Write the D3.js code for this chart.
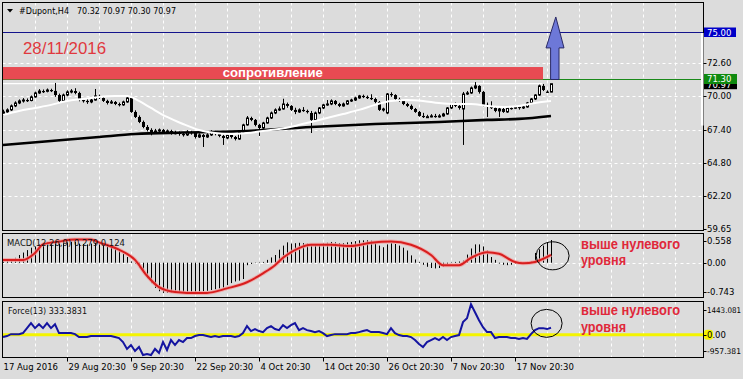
<!DOCTYPE html>
<html><head><meta charset="utf-8">
<script src="https://cdn.jsdelivr.net/npm/d3@7/dist/d3.min.js"></script>
<style>
body{margin:0;background:#dcdcdc;}
svg{display:block;}
</style>
</head><body>
<svg id="c" width="743" height="379"></svg>
<script>
// ---------------- DATA ----------------
const title = "#Dupont,H4";
const titleValues = "70.32 70.97 70.30 70.97";
const opens = [68.60,68.77,68.93,69.24,69.47,69.63,69.70,69.66,69.94,70.25,
70.40,70.38,70.48,70.41,70.09,69.63,70.09,70.33,70.40,70.25,
69.70,69.63,69.55,69.70,70.02,69.86,69.63,69.47,69.55,69.39,
69.32,69.55,69.86,68.77,68.38,67.99,67.60,67.37,67.21,67.29,
67.37,67.21,67.29,67.13,67.15,67.05,66.98,67.21,67.13,66.82,
66.98,66.82,66.98,67.21,67.05,66.90,66.74,66.98,66.82,66.66,
67.21,67.76,68.30,68.15,67.76,67.52,67.91,68.30,68.69,68.93,
69.00,69.39,69.24,68.93,68.77,68.93,68.85,68.69,68.15,68.69,
69.08,69.32,69.39,69.63,69.39,69.24,69.39,69.63,69.70,69.86,
70.02,69.94,69.86,69.78,69.55,68.93,68.69,70.17,70.09,69.78,
69.63,69.39,69.24,69.00,68.77,68.46,68.38,68.40,68.46,68.38,
68.46,68.61,69.08,69.39,69.24,69.00,70.17,70.25,70.64,70.80,
70.33,69.32,69.16,69.08,68.85,69.00,68.77,69.08,69.06,69.16,
69.08,69.16,69.47,69.78,70.09,70.80,70.35,70.32];
const highs = [68.95,69.05,69.35,69.60,69.75,69.85,69.82,70.05,70.35,70.55,
70.52,70.60,70.58,71.03,70.20,70.20,70.45,70.55,70.62,70.35,
69.85,69.78,69.82,70.56,70.12,69.95,69.72,69.70,69.62,69.50,
69.65,70.00,69.90,68.90,68.50,68.10,67.75,67.50,67.45,67.48,
67.45,67.40,67.38,67.30,67.25,67.15,67.35,67.30,67.20,67.10,
67.05,67.10,67.35,67.30,67.12,67.00,67.10,67.05,66.90,67.30,
67.85,68.45,68.40,68.22,67.85,68.00,68.40,68.80,69.05,69.20,
69.80,69.50,69.30,69.10,69.05,69.15,68.95,68.85,68.80,69.15,
69.40,69.70,69.75,69.70,69.48,69.50,69.70,69.80,69.95,70.10,
70.12,70.05,70.15,69.88,69.62,69.10,70.25,70.30,70.15,69.88,
69.70,69.48,69.35,69.08,68.85,68.70,68.55,68.60,68.62,68.60,
68.70,69.15,69.45,69.50,69.30,70.33,70.40,70.75,71.10,70.85,
70.40,69.50,69.60,69.15,69.10,69.08,69.15,69.20,69.25,69.22,
69.25,69.55,69.85,70.15,70.90,70.95,70.45,70.97];
const lows = [68.50,68.65,68.85,69.15,69.38,69.50,69.55,69.60,69.88,70.18,
70.25,70.30,70.32,69.95,69.47,69.55,70.00,70.22,70.15,69.60,
69.50,69.40,69.45,69.65,69.78,69.55,69.35,69.40,69.30,69.20,
69.25,69.48,68.70,68.30,67.90,67.50,67.25,66.95,67.10,67.15,
67.05,67.10,67.00,67.02,66.92,66.85,66.90,67.00,66.70,66.75,
66.04,66.75,66.90,66.95,66.80,66.20,66.65,66.70,66.55,66.60,
67.15,67.70,68.05,67.65,66.90,67.45,67.85,68.22,68.60,68.85,
68.95,69.10,68.85,68.60,68.70,68.78,68.65,67.13,68.10,68.60,
69.00,69.25,69.30,69.30,69.15,69.18,69.32,69.55,69.62,69.80,
69.85,69.78,69.70,69.45,68.85,68.80,68.60,69.95,69.70,69.55,
69.30,69.15,68.92,68.70,68.40,68.30,68.30,68.35,68.32,68.33,
68.40,68.55,69.00,69.15,68.95,66.20,70.10,70.18,70.55,70.20,
69.20,68.38,69.00,68.75,68.38,68.70,68.70,68.95,69.00,68.95,
69.00,69.10,69.40,69.70,70.02,70.40,70.25,70.30];
const closes = [68.77,68.93,69.24,69.47,69.63,69.70,69.66,69.94,70.25,70.40,
70.38,70.48,70.41,70.09,69.63,70.09,70.33,70.40,70.25,69.70,
69.63,69.55,69.70,70.02,69.86,69.63,69.47,69.55,69.39,69.32,
69.55,69.86,68.77,68.38,67.99,67.60,67.37,67.21,67.29,67.37,
67.21,67.29,67.13,67.15,67.05,66.98,67.21,67.13,66.82,66.98,
66.82,66.98,67.21,67.05,66.90,66.74,66.98,66.82,66.66,67.21,
67.76,68.30,68.15,67.76,67.52,67.91,68.30,68.69,68.93,69.00,
69.39,69.24,68.93,68.77,68.93,68.85,68.77,68.15,68.69,69.08,
69.32,69.39,69.63,69.39,69.24,69.39,69.63,69.70,69.86,70.02,
69.94,69.86,69.78,69.55,68.93,69.00,70.17,70.09,69.78,69.63,
69.39,69.24,69.00,68.77,68.46,68.38,68.40,68.46,68.38,68.46,
68.61,69.08,69.39,69.24,69.08,70.17,70.25,70.64,70.80,70.33,
69.32,69.16,69.08,68.85,69.00,68.77,69.08,69.06,69.16,69.08,
69.16,69.47,69.78,70.09,70.80,70.48,70.33,70.97];
// moving averages: [bar index, value]
const fastMA = [[0,68.54],[4,68.85],[8,69.08],[12,69.32],[16,69.63],[20,69.78],[24,69.94],[28,70.02],[31,70.02],[34,69.63],[37,69.08],[41,68.38],[45,67.83],[49,67.37],[53,67.13],[57,67.05],[61,67.13],[65,67.29],[69,67.44],[73,67.68],[77,67.99],[81,68.30],[85,68.61],[89,68.93],[93,69.32],[97,69.63],[101,69.70],[105,69.63],[109,69.47],[113,69.39],[117,69.39],[121,69.24],[125,69.16],[129,69.24],[133,69.47],[137,69.63]];
const slowMA = [[0,66.20],[12,66.51],[24,66.82],[33,67.05],[45,67.17],[61,67.29],[77,67.60],[93,67.83],[109,67.99],[121,68.15],[129,68.23],[137,68.46]];
const macdHist = [0.03,0.05,0.08,0.12,0.19,0.25,0.31,0.37,0.40,0.45,
0.48,0.50,0.52,0.50,0.47,0.48,0.50,0.52,0.51,0.47,
0.46,0.45,0.47,0.50,0.49,0.46,0.45,0.43,0.38,0.30,
0.22,0.14,0.03,-0.02,-0.12,-0.25,-0.38,-0.50,-0.62,-0.70,
-0.74,-0.74,-0.73,-0.74,-0.73,-0.72,-0.72,-0.73,-0.72,-0.71,
-0.70,-0.69,-0.67,-0.65,-0.63,-0.61,-0.55,-0.50,-0.46,-0.44,
-0.40,-0.06,-0.03,-0.01,0.01,0.02,0.07,0.13,0.19,0.32,
0.42,0.50,0.47,0.48,0.49,0.48,0.47,0.42,0.43,0.46,
0.48,0.49,0.51,0.50,0.48,0.48,0.50,0.51,0.53,0.55,
0.55,0.55,0.54,0.51,0.42,0.38,0.45,0.48,0.46,0.42,
0.37,0.30,0.18,0.08,0.02,-0.05,-0.10,-0.13,-0.14,-0.13,
-0.10,-0.04,0.01,0.02,0.03,0.05,0.20,0.35,0.45,0.45,
0.40,0.30,0.14,0.07,-0.02,-0.05,-0.06,-0.05,-0.03,0.00,
0.01,0.02,0.03,0.24,0.33,0.42,0.50,0.558];
const macdSignal = [[0,0.066],[5,0.066],[8,0.24],[10,0.45],[14,0.52],[18,0.57],[22,0.57],[24,0.50],[29,0.32],[33,0.07],[36,-0.32],[39,-0.60],[43,-0.72],[46,-0.74],[51,-0.74],[56,-0.63],[61,-0.48],[65,-0.26],[68,-0.06],[70,0.12],[74,0.36],[77,0.44],[82,0.44],[87,0.41],[92,0.49],[97,0.52],[102,0.44],[107,0.19],[110,-0.06],[114,-0.06],[117,0.12],[121,0.26],[124,0.22],[128,0.02],[130,-0.01],[133,0.02],[137,0.19]];
const force = [-108,-60,30,30,30,80,315,550,315,500,
315,550,315,500,80,80,80,80,30,-108,
-108,-108,-60,-60,-60,-60,-60,-60,-108,-155,
-345,-670,-485,-767,-580,-957,-910,-957,-670,-860,
-345,-720,-250,-485,-250,-345,-155,-155,-60,-15,
-15,-60,-108,-60,-108,-60,-60,-60,-108,-60,
80,410,175,270,175,127,315,410,270,220,
455,315,455,550,220,315,220,175,127,175,
80,-60,-15,30,30,30,30,80,80,127,
175,220,127,127,127,80,30,315,80,-15,
-60,-60,-108,-250,-440,-580,-345,-250,-155,-250,
-108,-250,-108,-60,-15,600,785,1443,1070,690,
360,127,127,-155,-108,-108,-108,-155,-155,-200,
-155,-200,30,220,315,315,270,333.38];
const priceTicks = [72.60,70.00,67.40,64.80,62.20,59.65];
const levelTarget = 75.00, levelRes = 71.30, lastPrice = 70.97, resTop = 72.27;
const macdLabels = [0.558,0.00,-0.743];
const forceLabels = [1443.081,0.00,-957.381];
const timeIdx = [0,16,32,48,64,80,96,112,128];
const timeLabels = ["17 Aug 2016","29 Aug 20:30","9 Sep 20:30","22 Sep 20:30","4 Oct 20:30","14 Oct 20:30","26 Oct 20:30","7 Nov 20:30","17 Nov 20:30"];
const dateText = "28/11/2016";
const resText = "сопротивление";
const noteLines = ["выше нулевого","уровня"];
const macdTitle = "MACD(12,26,9) 0.279 0.124";
const forceTitle = "Force(13) 333.3831";

// ---------------- CHART ----------------
const svg = d3.select("#c");
const BG = "#dcdcdc";
const SMALL = "'DejaVu Sans', Verdana, sans-serif";
const BIG = "'Liberation Sans', Arial, sans-serif";
const L = 2.5, R = 703.5;
const P = {main:[2.5,230.5], macd:[233.5,297.5], force:[301.5,357.5]};

const x = d3.scaleLinear().domain([0,137]).range([3,551]);
const y = d3.scaleLinear().domain([59.65,75]).range([229,32]);
const ym = d3.scaleLinear().domain([-0.743,0.558]).range([293,240]);
const yf = d3.scaleLinear().domain([-957.381,1443.081]).range([355,304.3]);

const defs = svg.append("defs");
Object.entries(P).forEach(([k,[t,b]])=>{
  defs.append("clipPath").attr("id","clip-"+k).append("rect")
    .attr("x",L).attr("y",t).attr("width",R-L).attr("height",b-t);
  svg.append("rect").attr("x",L).attr("y",t).attr("width",R-L).attr("height",b-t).attr("fill",BG);
});
const gM = svg.append("g").attr("clip-path","url(#clip-main)");
const gD = svg.append("g").attr("clip-path","url(#clip-macd)");
const gF = svg.append("g").attr("clip-path","url(#clip-force)");

// vertical dashed grid
const gridIdx = d3.range(8,170,8);
[[gM,P.main],[gD,P.macd],[gF,P.force]].forEach(([g,[t,b]])=>{
  g.selectAll(null).data(gridIdx).join("line")
    .attr("x1",d=>Math.round(x(d))+0.5).attr("x2",d=>Math.round(x(d))+0.5)
    .attr("y1",t).attr("y2",b)
    .attr("stroke","#fff").attr("stroke-dasharray","3,3");
});
// horizontal grid main
gM.selectAll(null).data(priceTicks.slice(0,5)).join("line")
  .attr("x1",L).attr("x2",R).attr("y1",d=>Math.round(y(d))+0.5).attr("y2",d=>Math.round(y(d))+0.5)
  .attr("stroke","#fff").attr("stroke-dasharray","3,3");
gD.append("line").attr("x1",L).attr("x2",R).attr("y1",Math.round(ym(0))+0.5).attr("y2",Math.round(ym(0))+0.5)
  .attr("stroke","#fff").attr("stroke-dasharray","3,3");

// level lines
gM.append("line").attr("x1",L).attr("x2",R).attr("y1",Math.round(y(levelTarget))+0.5).attr("y2",Math.round(y(levelTarget))+0.5)
  .attr("stroke","#14148c").attr("stroke-width",1);
gM.append("line").attr("x1",L).attr("x2",R).attr("y1",Math.round(y(levelRes))+0.5).attr("y2",Math.round(y(levelRes))+0.5)
  .attr("stroke","#1a8a1a").attr("stroke-width",1);
gM.append("line").attr("x1",L).attr("x2",x(134.8)).attr("y1",y(lastPrice)).attr("y2",y(lastPrice))
  .attr("stroke","#fff").attr("stroke-width",1.3);

// resistance rectangle
gM.append("rect").attr("x",L).attr("y",y(resTop)).attr("width",x(135)-L).attr("height",y(levelRes)-y(resTop))
  .attr("fill","#e84a52");
gM.append("text").attr("x",(L+x(135))/2).attr("y",y(levelRes)-2.5).attr("text-anchor","middle")
  .attr("font-family",BIG).attr("font-weight","bold").attr("font-size",13).attr("fill","#fff")
  .attr("textLength",100).attr("lengthAdjust","spacingAndGlyphs").text(resText);

// candles
const idx = d3.range(closes.length);
const cg = gM.append("g");
idx.forEach(i=>{
  const xi = Math.round(x(i));
  cg.append("line").attr("x1",xi+0.5).attr("x2",xi+0.5).attr("y1",y(highs[i])).attr("y2",y(lows[i]))
    .attr("stroke","#000").attr("stroke-width",1);
  const o=opens[i], c=closes[i];
  const top = y(Math.max(o,c)), bot = y(Math.min(o,c));
  if (c>=o){
    cg.append("rect").attr("x",xi-0.5).attr("y",top).attr("width",2).attr("height",Math.max(bot-top,1))
      .attr("fill","#fff").attr("stroke","#000").attr("stroke-width",1);
  } else {
    cg.append("rect").attr("x",xi-1).attr("y",top).attr("width",3).attr("height",Math.max(bot-top,1.2))
      .attr("fill","#000");
  }
});

// moving averages
const maLine = d3.line().x(d=>x(d[0])).y(d=>y(d[1])).curve(d3.curveMonotoneX);
gM.append("path").attr("d",maLine(slowMA)).attr("fill","none").attr("stroke","#000").attr("stroke-width",2.6);
gM.append("path").attr("d",maLine(fastMA)).attr("fill","none").attr("stroke","#fff").attr("stroke-width",2);

// arrow (annotation) in data coordinates
const arrowPts = [[136.9,levelRes],[139,levelRes],[139,73.76],[140.25,73.76],[138.2,76.17],[135.75,73.76],[136.9,73.76]];
svg.append("path").attr("d",d3.line().x(d=>x(d[0])).y(d=>y(d[1]))(arrowPts)+"Z")
  .attr("fill","#6d78d8").attr("stroke","#2a2a66").attr("stroke-width",1);

// date text
svg.append("text").attr("x",23).attr("y",54).attr("font-family",BIG).attr("font-size",16.5)
  .attr("fill","#e0393e").attr("textLength",83).attr("lengthAdjust","spacingAndGlyphs").text(dateText);

// MACD histogram
gD.selectAll(null).data(idx).join("line")
  .attr("x1",i=>Math.round(x(i))+0.5).attr("x2",i=>Math.round(x(i))+0.5)
  .attr("y1",ym(0)).attr("y2",i=>ym(macdHist[i]))
  .attr("stroke","#000").attr("stroke-width",1);
const sigLine = d3.line().x(d=>x(d[0])).y(d=>ym(d[1])).curve(d3.curveMonotoneX);
gD.append("path").attr("d",sigLine(macdSignal)).attr("fill","none").attr("stroke","#f2a0a0").attr("stroke-width",4).attr("opacity",0.8);
gD.append("path").attr("d",sigLine(macdSignal)).attr("fill","none").attr("stroke","#d81e1e").attr("stroke-width",2);

// Force
gF.append("line").attr("x1",L).attr("x2",R).attr("y1",yf(0)).attr("y2",yf(0)).attr("stroke","#f4f400").attr("stroke-width",3);
gF.append("path").attr("d",d3.line().x((d,i)=>x(i)).y(d=>yf(d))(force))
  .attr("fill","none").attr("stroke","#1414a0").attr("stroke-width",2);

// panel borders
Object.values(P).forEach(([t,b])=>{
  svg.append("rect").attr("x",L).attr("y",t).attr("width",R-L).attr("height",b-t)
    .attr("fill","none").attr("stroke","#000").attr("stroke-width",1);
});
// white price strip on right border
svg.append("rect").attr("x",701).attr("y",y(levelTarget)+1).attr("width",2.5).attr("height",y(67.40)-y(levelTarget)-5).attr("fill","#fff");

// title
svg.append("path").attr("d","M7,9 L13,9 L10,12.5 Z").attr("fill","#000");
svg.append("text").attr("x",19).attr("y",14).attr("font-family",SMALL).attr("font-size",8.5).attr("fill","#000")
  .attr("textLength",50).attr("lengthAdjust","spacingAndGlyphs").text(title);
svg.append("text").attr("x",77).attr("y",14).attr("font-family",SMALL).attr("font-size",8.5).attr("fill","#000")
  .attr("textLength",99).attr("lengthAdjust","spacingAndGlyphs").text(titleValues);

// right axis
const axT = (yy)=>svg.append("line").attr("x1",R).attr("x2",R+3).attr("y1",Math.round(yy)+0.5).attr("y2",Math.round(yy)+0.5).attr("stroke","#000");
const axL = (yy,txt,fill,len,fs)=>{
  const t = svg.append("text").attr("x",707).attr("y",yy+3.2).attr("font-family",SMALL).attr("font-size",fs||8.5).attr("fill",fill||"#000").text(txt);
  if (len) t.attr("textLength",len).attr("lengthAdjust","spacingAndGlyphs");
  return t;
};
priceTicks.forEach(v=>{ axT(y(v)); axL(y(v),v.toFixed(2)); });
// current price box (mostly hidden under the 71.30 box)
defs.append("clipPath").attr("id","clip-last").append("rect")
  .attr("x",704).attr("y",y(levelRes)+4.5).attr("width",34).attr("height",6);
const lastG = svg.append("g").attr("clip-path","url(#clip-last)");
lastG.append("rect").attr("x",704).attr("y",y(lastPrice)-4).attr("width",33).attr("height",9.5).attr("fill","#000");
lastG.append("text").attr("x",707).attr("y",y(lastPrice)+4).attr("font-family",SMALL).attr("font-size",8.5).attr("fill","#fff").text(lastPrice.toFixed(2));
svg.append("rect").attr("x",704).attr("y",y(levelRes)-5.5).attr("width",33).attr("height",10).attr("fill","#0f8a0f");
axL(y(levelRes)-0.8,levelRes.toFixed(2),"#fff");
svg.append("rect").attr("x",704).attr("y",y(levelTarget)-4.5).attr("width",32).attr("height",9.5).attr("fill","#0000c8");
axL(y(levelTarget)+0.3,levelTarget.toFixed(2),"#fff");

// right axis - MACD
const macdLabY = [P.macd[0]+7.5, ym(0), P.macd[1]-6];
macdLabels.forEach((v,k)=>{ axT(macdLabY[k]); axL(macdLabY[k], v.toFixed(v===0?2:3)); });
// right axis - Force
const forceLabY = [P.force[0]+8.5, yf(0), P.force[1]-6.5];
svg.append("rect").attr("x",704).attr("y",yf(0)-5).attr("width",9).attr("height",10).attr("rx",3).attr("fill","#f4f400");
forceLabels.forEach((v,k)=>{ axT(forceLabY[k]); axL(forceLabY[k], v===0?"0.00":v.toFixed(3), null, v===0?null:34, v===0?8.5:7.8); });

// panel titles
svg.append("text").attr("x",7).attr("y",245.5).attr("font-family",SMALL).attr("font-size",8.5).attr("fill","#111")
  .attr("textLength",118).attr("lengthAdjust","spacingAndGlyphs").text(macdTitle);
svg.append("text").attr("x",8).attr("y",313.5).attr("font-family",SMALL).attr("font-size",8.5).attr("fill","#111")
  .attr("textLength",79).attr("lengthAdjust","spacingAndGlyphs").text(forceTitle);

// time axis
timeIdx.forEach((t,k)=>{
  const xi = Math.round(x(t))+0.5;
  if (k>0) svg.append("line").attr("x1",xi).attr("x2",xi).attr("y1",P.force[1]).attr("y2",P.force[1]+4).attr("stroke","#000");
  svg.append("text").attr("x",xi+(k>0?1:0)).attr("y",370).attr("font-family",SMALL).attr("font-size",8.5).attr("fill","#000").text(timeLabels[k]);
});

// annotations: circles and notes
svg.append("ellipse").attr("cx",x(137.4)).attr("cy",ym(0.17)).attr("rx",16.5).attr("ry",14)
  .attr("fill","none").attr("stroke","#000").attr("stroke-width",1);
svg.append("ellipse").attr("cx",x(135.9)).attr("cy",yf(540)).attr("rx",15.5).attr("ry",14)
  .attr("fill","none").attr("stroke","#000").attr("stroke-width",1);
const noteX = 581;
[[248.5,265],[315,331.5]].forEach(([b1,b2])=>{
  svg.append("text").attr("x",noteX).attr("y",b1).attr("font-family",BIG).attr("font-weight","bold").attr("font-size",14)
    .attr("fill","#e0283a").attr("textLength",99).attr("lengthAdjust","spacingAndGlyphs").text(noteLines[0]);
  svg.append("text").attr("x",noteX).attr("y",b2).attr("font-family",BIG).attr("font-weight","bold").attr("font-size",14)
    .attr("fill","#e0283a").attr("textLength",45).attr("lengthAdjust","spacingAndGlyphs").text(noteLines[1]);
});
</script>
</body></html>
